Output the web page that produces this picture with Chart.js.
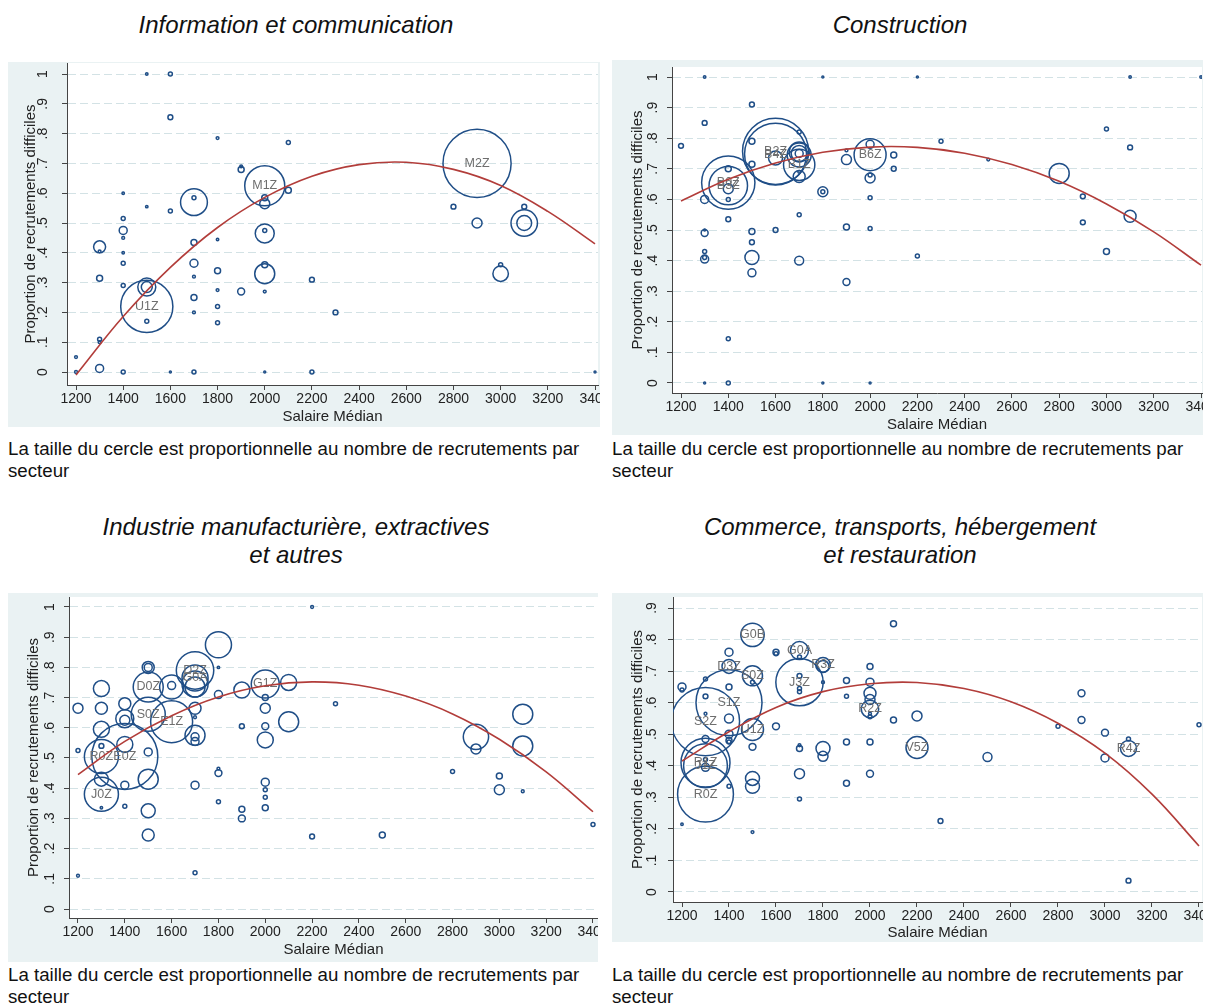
<!DOCTYPE html>
<html lang="fr">
<head>
<meta charset="utf-8">
<title>Recrutements difficiles et salaire médian</title>
<script src="https://cdn.jsdelivr.net/npm/chart.js@4.4.1/dist/chart.umd.min.js"></script>
<style>
  body { margin: 0; background: #fff; font-family: "Liberation Sans", Arial, Helvetica, sans-serif; }
  .page { position: relative; width: 1211px; height: 1006px; overflow: hidden; }
  .title { position: absolute; width: 600px; text-align: center; font-style: italic; font-size: 24px; line-height: 28px; color: #111; }
  .panel { position: absolute; background: #eaf2f3; }
  .panel canvas { display: block; }
  .note { position: absolute; width: 600px; font-size: 18.7px; line-height: 21.5px; color: #111; white-space: nowrap; }
</style>
</head>
<body>
<div class="page">
  <div class="title" style="left:-4px; top:11px;">Information et communication</div>
  <div class="title" style="left:600px; top:11px;">Construction</div>
  <div class="title" style="left:-4px; top:513px;">Industrie manufacturière, extractives<br>et autres</div>
  <div class="title" style="left:600px; top:513px;">Commerce, transports, hébergement<br>et restauration</div>

  <div class="panel" style="left:8px; top:62px;"><canvas id="info" width="592" height="365"></canvas></div>
  <div class="panel" style="left:612px; top:60px;"><canvas id="constr" width="591" height="375"></canvas></div>
  <div class="panel" style="left:8px; top:593px;"><canvas id="indus" width="590" height="369"></canvas></div>
  <div class="panel" style="left:612px; top:593px;"><canvas id="comm" width="591" height="349"></canvas></div>

  <div class="note" style="left:8px; top:438px;">La taille du cercle est proportionnelle au nombre de recrutements par<br>secteur</div>
  <div class="note" style="left:612px; top:438px;">La taille du cercle est proportionnelle au nombre de recrutements par<br>secteur</div>
  <div class="note" style="left:8px; top:964px;">La taille du cercle est proportionnelle au nombre de recrutements par<br>secteur</div>
  <div class="note" style="left:612px; top:964px;">La taille du cercle est proportionnelle au nombre de recrutements par<br>secteur</div>
</div>

<script>
// axes
const xTicks = [1200, 1400, 1600, 1800, 2000, 2200, 2400, 2600, 2800, 3000, 3200, 3400];
const yTicks10 = [0, 0.1, 0.2, 0.3, 0.4, 0.5, 0.6, 0.7, 0.8, 0.9, 1];
const yLabels10 = ['0', '.1', '.2', '.3', '.4', '.5', '.6', '.7', '.8', '.9', '1'];
const yTicks9 = [0, 0.1, 0.2, 0.3, 0.4, 0.5, 0.6, 0.7, 0.8, 0.9];
const yLabels9 = ['0', '.1', '.2', '.3', '.4', '.5', '.6', '.7', '.8', '.9'];

// information et communication (recrutements en centaines, codes des premiers cercles)
const infoSalaire = [1500, 2000, 2900, 1200, 1200, 1300, 1300, 1300, 1300, 1300, 1300, 1400, 1400, 1400, 1400, 1400, 1400, 1400, 1400, 1500, 1500, 1500, 1500, 1500, 1600, 1600, 1600, 1600, 1700, 1700, 1700, 1700, 1700, 1700, 1700, 1700, 1800, 1800, 1800, 1800, 1800, 1800, 1900, 1900, 1900, 2000, 2000, 2000, 2000, 2000, 2000, 2000, 2000, 2100, 2100, 2200, 2200, 2300, 2800, 2900, 3000, 3000, 3100, 3100, 3100, 3400];
const infoTaux = [0.22, 0.625, 0.70, 0.05, 0, 0.42, 0.405, 0.315, 0.11, 0.10, 0.012, 0.60, 0.515, 0.475, 0.45, 0.40, 0.365, 0.29, 0, 1.0, 0.555, 0.285, 0.285, 0.17, 1.0, 0.855, 0.54, 0, 0.57, 0.585, 0.435, 0.365, 0.32, 0.25, 0.2, 0, 0.785, 0.445, 0.34, 0.275, 0.22, 0.165, 0.69, 0.68, 0.27, 0.585, 0.565, 0.465, 0.475, 0.33, 0.36, 0.27, 0, 0.77, 0.61, 0.31, 0, 0.2, 0.555, 0.5, 0.36, 0.33, 0.555, 0.5, 0.5, 0];
const infoRecrut = [680, 400, 1160, 2, 2, 36, 2, 9, 4, 2, 16, 1.5, 4, 16, 2, 1.5, 4, 4, 4, 1.5, 1.5, 81, 30, 4, 4, 6, 4, 1, 180, 4, 9, 16, 2, 9, 2, 4, 2, 1.5, 9, 2, 4, 4, 2, 9, 12, 9, 25, 90, 4, 100, 9, 2, 1, 4, 9, 6, 4, 6, 6, 25, 4, 60, 6, 175, 55, 1];
const infoCodes = ['U1Z', 'M1Z', 'M2Z'];
const infoFit = [-0.01, 0.186, 0.351, 0.485, 0.586, 0.657, 0.696, 0.704, 0.680, 0.626, 0.539, 0.43];

// construction
const constrSalaire = [1600, 1600, 1400, 1400, 1700, 2000, 1700, 1700, 1700, 1700, 1700, 1700, 1700, 1700, 1700, 1200, 1300, 1300, 1300, 1300, 1300, 1300, 1300, 1300, 1300, 1400, 1400, 1400, 1400, 1400, 1400, 1500, 1500, 1500, 1500, 1500, 1500, 1500, 1600, 1600, 1800, 1800, 1800, 1800, 1900, 1900, 1900, 1900, 2000, 2000, 2000, 2000, 2000, 2000, 2100, 2100, 2200, 2200, 2300, 2500, 2800, 2900, 2900, 3000, 3000, 3100, 3100, 3100, 3400];
const constrTaux = [0.757, 0.748, 0.655, 0.645, 0.713, 0.746, 0.745, 0.755, 0.75, 0.75, 0.82, 0.675, 0.69, 0.55, 0.40, 0.775, 1.0, 0.85, 0.60, 0.49, 0.50, 0.43, 0.405, 0.41, 0, 0.635, 0.70, 0.60, 0.535, 0.145, 0, 0.91, 0.79, 0.715, 0.495, 0.46, 0.41, 0.36, 0.735, 0.50, 1.0, 0.625, 0.625, 0, 0.73, 0.76, 0.51, 0.33, 0.78, 0.67, 0.68, 0.605, 0.505, 0, 0.745, 0.70, 1.0, 0.415, 0.79, 0.73, 0.685, 0.61, 0.525, 0.83, 0.43, 1.0, 0.77, 0.545, 1.0];
const constrRecrut = [1090, 960, 710, 370, 245, 256, 144, 100, 64, 16, 4, 36, 2, 4, 20, 6, 1.5, 6, 16, 12, 1, 4, 16, 4, 1, 25, 9, 4, 6, 4, 4, 6, 9, 9, 9, 6, 49, 16, 49, 6, 1, 25, 4, 1, 25, 2, 9, 12, 16, 25, 4, 4, 4, 1, 9, 6, 1, 4, 4, 2, 100, 6, 6, 4, 9, 1.5, 6, 36, 1.5];
const constrCodes = ['B2Z', 'B4Z', 'B0Z', 'B3Z', 'B1Z', 'B6Z'];
const constrFit = [0.595, 0.666, 0.719, 0.754, 0.771, 0.770, 0.751, 0.714, 0.659, 0.585, 0.494, 0.385];

// industrie manufacturière, extractives et autres
const indusSalaire = [1300, 1300, 1400, 1500, 1500, 1600, 1700, 1700, 2000, 1200, 1200, 1200, 1300, 1300, 1300, 1300, 1300, 1300, 1400, 1400, 1400, 1400, 1400, 1400, 1500, 1500, 1500, 1500, 1500, 1500, 1600, 1600, 1700, 1700, 1700, 1700, 1700, 1700, 1700, 1700, 1700, 1800, 1800, 1800, 1800, 1800, 1800, 1900, 1900, 1900, 1900, 2000, 2000, 2000, 2000, 2000, 2000, 2000, 2000, 2100, 2100, 2200, 2200, 2300, 2500, 2800, 2900, 2900, 3000, 3000, 3100, 3100, 3100, 3400];
const indusTaux = [0.38, 0.505, 0.505, 0.735, 0.645, 0.62, 0.79, 0.765, 0.745, 0.665, 0.525, 0.11, 0.73, 0.665, 0.595, 0.54, 0.43, 0.335, 0.68, 0.63, 0.625, 0.545, 0.41, 0.34, 0.80, 0.80, 0.52, 0.43, 0.325, 0.245, 0.74, 0.735, 0.745, 0.735, 0.665, 0.635, 0.575, 0.57, 0.555, 0.41, 0.12, 0.875, 0.80, 0.71, 0.465, 0.45, 0.355, 0.725, 0.605, 0.33, 0.30, 0.70, 0.665, 0.605, 0.56, 0.42, 0.395, 0.37, 0.335, 0.75, 0.62, 1.0, 0.24, 0.68, 0.245, 0.455, 0.57, 0.53, 0.44, 0.395, 0.645, 0.54, 0.39, 0.28];
const indusRecrut = [290, 290, 1090, 225, 290, 440, 350, 170, 196, 25, 4, 2, 64, 36, 64, 6, 49, 1.5, 36, 81, 25, 64, 16, 4, 36, 16, 16, 100, 49, 36, 16, 144, 170, 100, 36, 2, 100, 16, 16, 16, 4, 170, 1.5, 16, 2, 12, 4, 64, 6, 9, 12, 9, 25, 12, 64, 16, 4, 4, 9, 64, 100, 2, 6, 4, 9, 4, 160, 25, 9, 25, 100, 100, 2, 4];
const indusCodes = ['J0Z', 'R0Z', 'E0Z', 'D0Z', 'S0Z', 'E1Z', 'D2Z', 'G0A', 'G1Z'];
const indusFit = [0.445, 0.555, 0.640, 0.702, 0.739, 0.752, 0.741, 0.705, 0.646, 0.562, 0.454, 0.322];

// commerce, transports, hébergement et restauration
const commSalaire = [1300, 1300, 1300, 1300, 1400, 1400, 1500, 1500, 1500, 1700, 1700, 1800, 2000, 2200, 3100, 1200, 1200, 1200, 1300, 1300, 1300, 1300, 1300, 1300, 1400, 1400, 1400, 1400, 1400, 1400, 1400, 1500, 1500, 1500, 1500, 1500, 1600, 1600, 1600, 1700, 1700, 1700, 1700, 1700, 1700, 1700, 1700, 1800, 1800, 1800, 1800, 1900, 1900, 1900, 1900, 2000, 2000, 2000, 2000, 2000, 2000, 2000, 2000, 2100, 2100, 2100, 2200, 2300, 2500, 2800, 2900, 2900, 3000, 3000, 3100, 3100, 3400];
const commTaux = [0.54, 0.41, 0.40, 0.31, 0.715, 0.60, 0.815, 0.685, 0.515, 0.765, 0.665, 0.72, 0.58, 0.458, 0.455, 0.65, 0.64, 0.215, 0.675, 0.62, 0.565, 0.485, 0.395, 0.42, 0.76, 0.65, 0.55, 0.50, 0.48, 0.475, 0.335, 0.665, 0.46, 0.36, 0.335, 0.19, 0.76, 0.755, 0.525, 0.745, 0.685, 0.645, 0.635, 0.465, 0.455, 0.375, 0.295, 0.715, 0.665, 0.455, 0.43, 0.67, 0.62, 0.475, 0.345, 0.715, 0.665, 0.63, 0.61, 0.565, 0.555, 0.475, 0.375, 0.97, 0.85, 0.545, 0.558, 0.225, 0.428, 0.525, 0.63, 0.545, 0.505, 0.425, 0.485, 0.036, 0.53];
const commRecrut = [1160, 600, 480, 780, 49, 1090, 137, 100, 121, 81, 560, 54, 76, 121, 64, 16, 4, 1.5, 4, 6, 2, 12, 16, 4, 16, 9, 20, 16, 9, 4, 4, 4, 12, 49, 49, 2, 9, 4, 12, 4, 6, 4, 4, 2, 9, 25, 4, 36, 2, 49, 25, 9, 4, 9, 9, 9, 16, 36, 25, 2, 4, 9, 12, 9, 9, 9, 25, 6, 20, 4, 12, 12, 12, 16, 4, 6, 4];
const commCodes = ['S2Z', 'R1Z', 'J1Z', 'R0Z', 'D3Z', 'S1Z', 'G0B', 'S0Z', 'U1Z', 'G0A', 'J3Z', 'R3Z', 'R2Z', 'V5Z', 'R4Z'];
const commFit = [0.415, 0.508, 0.585, 0.635, 0.66, 0.664, 0.645, 0.603, 0.535, 0.44, 0.31, 0.146];

const FONT = '"Liberation Sans", Arial, Helvetica, sans-serif';
const NAVY = '#1f4e87';
const FIT_RED = '#b23d3a';
const AXIS = '#444444';

// panel frames: scale sizes and ranges matched to the picture
const frames = {
  info: {pad: {left: 0, top: 1, right: 2, bottom: 0}, yWidth: 59, xHeight: 42, xMin: 1161.8, xMax: 3412.7, yMin: -0.0436, yMax: 1.037, yTitlePad: 13.6, xTitlePad: 1.6, yLabelGap: 24},
  constr: {pad: {left: 0, top: 7, right: 1, bottom: 0}, yWidth: 60, xHeight: 42, xMin: 1161.9, xMax: 3404.2, yMin: -0.0327, yMax: 1.0327, yTitlePad: 16.6, xTitlePad: 1.6, yLabelGap: 19},
  indus: {pad: {left: 0, top: 4, right: 0, bottom: 0}, yWidth: 61, xHeight: 44, xMin: 1161.6, xMax: 3421.4, yMin: -0.0298, yMax: 1.0331, yTitlePad: 16.6, xTitlePad: 3.6, yLabelGap: 19},
  comm: {pad: {left: 0, top: 4, right: 1, bottom: 0}, yWidth: 61, xHeight: 40, xMin: 1161.7, xMax: 3412.8, yMin: -0.0317, yMax: 0.9349, yTitlePad: 16.6, xTitlePad: 0.6, yLabelGap: 21}
};

function bubbleRadius(ctx) {
  if (!ctx.raw) return 0;
  return Math.sqrt(ctx.raw.n);
}

function panelPlugin(codes, yTicks, yLabels, frame) {
  return {
    id: 'panelPlugin',
    beforeDraw: function(chart) {
      const a = chart.chartArea;
      const ctx = chart.ctx;
      ctx.save();
      ctx.fillStyle = '#ffffff';
      ctx.fillRect(a.left, a.top, a.right - a.left, a.bottom - a.top);
      ctx.restore();
    },
    afterDatasetDraw: function(chart, args) {
      if (args.meta.type !== 'bubble') return;
      const ctx = chart.ctx;
      ctx.save();
      ctx.font = '12.5px ' + FONT;
      ctx.fillStyle = '#6e6e6e';
      ctx.textAlign = 'center';
      ctx.textBaseline = 'middle';
      codes.forEach(function(code, i) {
        const el = args.meta.data[i];
        ctx.fillText(code, el.x, el.y);
      });
      ctx.restore();
    },
    afterDraw: function(chart) {
      const ctx = chart.ctx;
      const xs = chart.scales.x;
      const ys = chart.scales.y;
      ctx.save();
      ctx.font = '14px ' + FONT;
      ctx.fillStyle = '#222222';
      ctx.textAlign = 'center';
      ctx.textBaseline = 'middle';
      xTicks.forEach(function(v) {
        ctx.fillText(String(v), xs.getPixelForValue(v), xs.top + 14.5);
      });
      yTicks.forEach(function(v, i) {
        ctx.save();
        ctx.translate(chart.chartArea.left - frame.yLabelGap, ys.getPixelForValue(v));
        ctx.rotate(-Math.PI / 2);
        ctx.fillText(yLabels[i], 0, 0);
        ctx.restore();
      });
      ctx.restore();
    }
  };
}

function drawPanel(id, salaire, taux, recrut, codes, fit, yTicks, yLabels) {
  const frame = frames[id];
  const points = salaire.map(function(x, i) {
    return {x: x, y: taux[i], n: recrut[i]};
  });
  const curve = xTicks.map(function(x, i) {
    return {x: x, y: fit[i]};
  });

  new Chart(document.getElementById(id), {
    type: 'bubble',
    data: {
      datasets: [
        {
          type: 'line',
          data: curve,
          borderColor: FIT_RED,
          borderWidth: 1.6,
          pointRadius: 0,
          tension: 0.4,
          fill: false,
          order: 0
        },
        {
          type: 'bubble',
          data: points,
          backgroundColor: 'rgba(0,0,0,0)',
          borderColor: NAVY,
          borderWidth: 1.5,
          radius: bubbleRadius,
          hoverRadius: 0,
          order: 1
        }
      ]
    },
    options: {
      responsive: false,
      animation: false,
      devicePixelRatio: 1,
      events: [],
      layout: {autoPadding: false, padding: frame.pad},
      plugins: {
        legend: {display: false},
        tooltip: {enabled: false}
      },
      scales: {
        x: {
          type: 'linear',
          min: frame.xMin,
          max: frame.xMax,
          afterBuildTicks: function(axis) {
            axis.ticks = xTicks.map(function(v) { return {value: v}; });
          },
          afterFit: function(scale) { scale.height = frame.xHeight; },
          ticks: {display: false},
          grid: {drawOnChartArea: false, drawTicks: true, tickLength: 5, tickColor: AXIS},
          border: {color: AXIS, width: 1},
          title: {
            display: true,
            text: 'Salaire Médian',
            color: '#222222',
            font: {family: FONT, size: 15},
            padding: {top: 0, bottom: frame.xTitlePad}
          }
        },
        y: {
          type: 'linear',
          min: frame.yMin,
          max: frame.yMax,
          afterBuildTicks: function(axis) {
            axis.ticks = yTicks.map(function(v) { return {value: v}; });
          },
          afterFit: function(scale) { scale.width = frame.yWidth; },
          ticks: {display: false},
          grid: {color: '#d3e2e5', lineWidth: 1, drawTicks: true, tickLength: 5, tickColor: AXIS},
          border: {color: AXIS, width: 1, dash: [8, 4]},
          title: {
            display: true,
            text: 'Proportion de recrutements difficiles',
            color: '#222222',
            font: {family: FONT, size: 15},
            padding: {top: frame.yTitlePad, bottom: 0}
          }
        }
      }
    },
    plugins: [panelPlugin(codes, yTicks, yLabels, frame)]
  });
}

Chart.defaults.font.family = FONT;

drawPanel('info', infoSalaire, infoTaux, infoRecrut, infoCodes, infoFit, yTicks10, yLabels10);
drawPanel('constr', constrSalaire, constrTaux, constrRecrut, constrCodes, constrFit, yTicks10, yLabels10);
drawPanel('indus', indusSalaire, indusTaux, indusRecrut, indusCodes, indusFit, yTicks10, yLabels10);
drawPanel('comm', commSalaire, commTaux, commRecrut, commCodes, commFit, yTicks9, yLabels9);
</script>
</body>
</html>
